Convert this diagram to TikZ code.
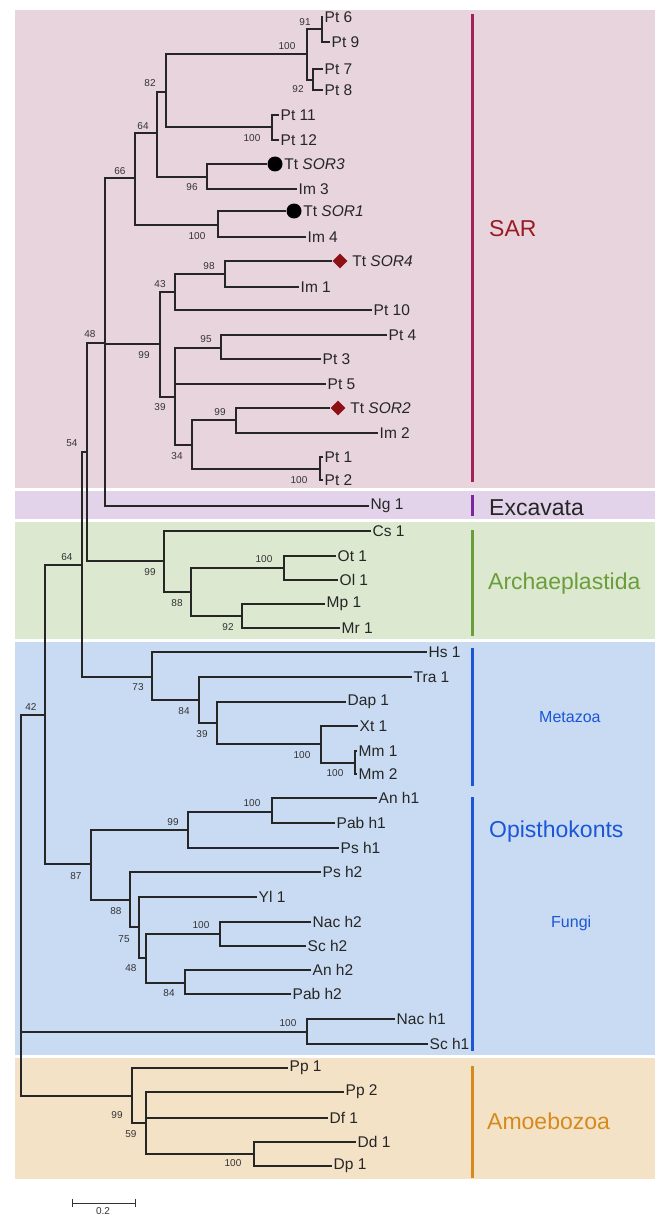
\documentclass[tikz,border=0pt]{standalone}
\usepackage{fontspec}
\setmainfont{Liberation Sans}
\usepackage{xcolor}
\usepackage{tikz}
\usetikzlibrary{arrows.meta,positioning,shapes.geometric}
\definecolor{sarbg}{RGB}{232,212,221}
\definecolor{excbg}{RGB}{226,211,234}
\definecolor{arcbg}{RGB}{221,232,208}
\definecolor{opibg}{RGB}{201,219,243}
\definecolor{amobg}{RGB}{244,226,199}
\definecolor{sarbar}{RGB}{163,33,90}
\definecolor{sartext}{RGB}{155,27,35}
\definecolor{excbar}{RGB}{122,40,155}
\definecolor{arcgreen}{RGB}{106,158,58}
\definecolor{opiblue}{RGB}{27,86,214}
\definecolor{amoorange}{RGB}{214,138,28}
\definecolor{sordia}{RGB}{140,16,20}

\begin{document}
\begin{tikzpicture}[
  x=1pt, y=-1pt,
  font=\fontsize{15.5}{15.5}\selectfont,
  branch/.style={line width=1.4pt, black!85},
  leaf/.style={anchor=west, inner sep=1.5pt, text=black!85},
  boot/.style={font=\fontsize{10}{10}\selectfont, inner sep=0pt, text=black!80},
  dot/.style={circle, fill=black, inner sep=0pt, minimum size=15pt},
  gem/.style={diamond, fill=sordia, inner sep=0pt, minimum size=15pt},
  bar/.style={line width=3pt},
  clade/.style={anchor=west, font=\fontsize{23}{23}\selectfont, inner sep=0pt},
  subclade/.style={anchor=west, font=\fontsize{16}{16}\selectfont, inner sep=0pt}
]
\useasboundingbox (0,0) rectangle (655,1217);
% clade bands
\fill[sarbg] (15,10) rectangle (655,488);
\fill[excbg] (15,491) rectangle (655,519);
\fill[arcbg] (15,522) rectangle (655,639);
\fill[opibg] (15,642) rectangle (655,1055);
\fill[amobg] (15,1058) rectangle (655,1179);
\draw[bar, sarbar] (472,14) -- (472,482);
\draw[bar, excbar] (472,495) -- (472,516);
\draw[bar, arcgreen] (472,530) -- (472,636);
\draw[bar, opiblue] (472,648) -- (472,786);
\draw[bar, opiblue] (472,797) -- (472,1051);
\draw[bar, amoorange] (472,1066) -- (472,1178);
\node[clade, text=sartext] (sar) at (489,229) {SAR};
\node[clade, text=black!85] (exc) at (489,508) {Excavata};
\node[clade, text=arcgreen] (arc) at (488,584) {Archaeplastida};
\node[subclade, text=opiblue] (met) at (539,717) {Metazoa};
\node[clade, text=opiblue] (opi) at (489,832) {Opisthokonts};
\node[subclade, text=opiblue] (fun) at (551,923) {Fungi};
\node[clade, text=amoorange] (amo) at (487,1121) {Amoebozoa};

% internal nodes
\coordinate (n91) at (322,29);
\coordinate (n92) at (313,80);
\coordinate (n100a) at (307,54);
\coordinate (n100b) at (272,127);
\coordinate (n82) at (166,92);
\coordinate (n96) at (207,177);
\coordinate (n64) at (157,133);
\coordinate (n100c) at (218,225);
\coordinate (n66) at (135,178);
\coordinate (n98) at (225,274);
\coordinate (n43) at (175,292);
\coordinate (n95) at (221,348);
\coordinate (n99b) at (236,420);
\coordinate (n100d) at (320,469);
\coordinate (n34) at (192,445);
\coordinate (n39) at (175,397);
\coordinate (n99a) at (160,344);
\coordinate (n48) at (105,343);
\coordinate (n99c) at (164,561);
\coordinate (n88) at (191,592);
\coordinate (n100e) at (284,568);
\coordinate (n92b) at (242,616);
\coordinate (n54) at (87,452);
\coordinate (n73) at (152,677);
\coordinate (n84) at (199,700);
\coordinate (n39b) at (217,723);
\coordinate (n100f) at (321,744);
\coordinate (n100g) at (355,763);
\coordinate (n64b) at (82,565);
\coordinate (n99d) at (188,830);
\coordinate (n100h) at (272,812);
\coordinate (n88b) at (130,900);
\coordinate (n75) at (139,927);
\coordinate (n48b) at (146,958);
\coordinate (n100i) at (220,934);
\coordinate (n84b) at (185,983);
\coordinate (n87) at (91,864);
\coordinate (n42) at (45,715);
\coordinate (n100j) at (307,1032);
\coordinate (n99e) at (132,1096);
\coordinate (n59) at (146,1123);
\coordinate (n100k) at (254,1154);
\coordinate (root) at (21,905);

% leaves
\node[leaf] (pt6) at (323,17) {Pt 6};
\node[leaf] (pt9) at (330,42) {Pt 9};
\node[leaf] (pt7) at (323,69) {Pt 7};
\node[leaf] (pt8) at (323,90) {Pt 8};
\node[leaf] (pt11) at (279,115) {Pt 11};
\node[leaf] (pt12) at (279,140) {Pt 12};
\node[dot] (sor3m) at (275,164) {};
\node[leaf, right=0pt of sor3m] (sor3) {Tt \textit{SOR3}};
\node[leaf] (im3) at (297,189) {Im 3};
\node[dot] (sor1m) at (294,211) {};
\node[leaf, right=0pt of sor1m] (sor1) {Tt \textit{SOR1}};
\node[leaf] (im4) at (306,237) {Im 4};
\node[gem] (sor4m) at (340,261) {};
\node[leaf, right=3pt of sor4m] (sor4) {Tt \textit{SOR4}};
\node[leaf] (im1) at (299,287) {Im 1};
\node[leaf] (pt10) at (372,310) {Pt 10};
\node[leaf] (pt4) at (387,335) {Pt 4};
\node[leaf] (pt3) at (321,359) {Pt 3};
\node[leaf] (pt5) at (326,384) {Pt 5};
\node[gem] (sor2m) at (338,408) {};
\node[leaf, right=3pt of sor2m] (sor2) {Tt \textit{SOR2}};
\node[leaf] (im2) at (378,433) {Im 2};
\node[leaf] (pt1) at (323,457) {Pt 1};
\node[leaf] (pt2) at (323,480) {Pt 2};
\node[leaf] (ng1) at (369,506) {Ng 1};
\node[leaf] (cs1) at (371,531) {Cs 1};
\node[leaf] (ot1) at (336,556) {Ot 1};
\node[leaf] (ol1) at (338,580) {Ol 1};
\node[leaf] (mp1) at (325,604) {Mp 1};
\node[leaf] (mr1) at (340,628) {Mr 1};
\node[leaf] (hs1) at (427,652) {Hs 1};
\node[leaf] (tra1) at (412,677) {Tra 1};
\node[leaf] (dap1) at (346,702) {Dap 1};
\node[leaf] (xt1) at (358,726) {Xt 1};
\node[leaf] (mm1) at (357,751) {Mm 1};
\node[leaf] (mm2) at (357,774) {Mm 2};
\node[leaf] (anh1) at (377,798) {An h1};
\node[leaf] (pabh1) at (335,823) {Pab h1};
\node[leaf] (psh1) at (339,848) {Ps h1};
\node[leaf] (psh2) at (321,872) {Ps h2};
\node[leaf] (yl1) at (257,897) {Yl 1};
\node[leaf] (nach2) at (311,922) {Nac h2};
\node[leaf] (sch2) at (306,946) {Sc h2};
\node[leaf] (anh2) at (311,970) {An h2};
\node[leaf] (pabh2) at (291,994) {Pab h2};
\node[leaf] (nach1) at (395,1019) {Nac h1};
\node[leaf] (sch1) at (428,1044) {Sc h1};
\node[leaf] (pp1) at (288,1068) {Pp 1};
\node[leaf] (pp2) at (344,1092) {Pp 2};
\node[leaf] (df1) at (328,1118) {Df 1};
\node[leaf] (dd1) at (356,1142) {Dd 1};
\node[leaf] (dp1) at (332,1166) {Dp 1};

% branches
\draw[branch] (n91) |- (pt6.west) (n91) |- (pt9.west);
\draw[branch] (n92) |- (pt7.west) (n92) |- (pt8.west);
\draw[branch] (n100a) |- (n91) (n100a) |- (n92);
\draw[branch] (n100b) |- (pt11.west) (n100b) |- (pt12.west);
\draw[branch] (n82) |- (n100a) (n82) |- (n100b);
\draw[branch] (n96) |- (sor3m.west) (n96) |- (im3.west);
\draw[branch] (n64) |- (n82) (n64) |- (n96);
\draw[branch] (n100c) |- (sor1m.west) (n100c) |- (im4.west);
\draw[branch] (n66) |- (n64) (n66) |- (n100c);
\draw[branch] (n98) |- (sor4m.west) (n98) |- (im1.west);
\draw[branch] (n43) |- (n98) (n43) |- (pt10.west);
\draw[branch] (n95) |- (pt4.west) (n95) |- (pt3.west);
\draw[branch] (n99b) |- (sor2m.west) (n99b) |- (im2.west);
\draw[branch] (n100d) |- (pt1.west) (n100d) |- (pt2.west);
\draw[branch] (n34) |- (n99b) (n34) |- (n100d);
\draw[branch] (n39) |- (n95) (n39) |- (pt5.west) (n39) |- (n34);
\draw[branch] (n99a) |- (n43) (n99a) |- (n39);
\draw[branch] (n48) |- (n66) (n48) |- (n99a) (n48) |- (ng1.west);
\draw[branch] (n100e) |- (ot1.west) (n100e) |- (ol1.west);
\draw[branch] (n92b) |- (mp1.west) (n92b) |- (mr1.west);
\draw[branch] (n88) |- (n100e) (n88) |- (n92b);
\draw[branch] (n99c) |- (cs1.west) (n99c) |- (n88);
\draw[branch] (n54) |- (n48) (n54) |- (n99c);
\draw[branch] (n100g) |- (mm1.west) (n100g) |- (mm2.west);
\draw[branch] (n100f) |- (xt1.west) (n100f) |- (n100g);
\draw[branch] (n39b) |- (dap1.west) (n39b) |- (n100f);
\draw[branch] (n84) |- (tra1.west) (n84) |- (n39b);
\draw[branch] (n73) |- (hs1.west) (n73) |- (n84);
\draw[branch] (n64b) |- (n54) (n64b) |- (n73);
\draw[branch] (n100h) |- (anh1.west) (n100h) |- (pabh1.west);
\draw[branch] (n99d) |- (n100h) (n99d) |- (psh1.west);
\draw[branch] (n100i) |- (nach2.west) (n100i) |- (sch2.west);
\draw[branch] (n84b) |- (anh2.west) (n84b) |- (pabh2.west);
\draw[branch] (n48b) |- (n100i) (n48b) |- (n84b);
\draw[branch] (n75) |- (yl1.west) (n75) |- (n48b);
\draw[branch] (n88b) |- (psh2.west) (n88b) |- (n75);
\draw[branch] (n87) |- (n99d) (n87) |- (n88b);
\draw[branch] (n42) |- (n64b) (n42) |- (n87);
\draw[branch] (n100j) |- (nach1.west) (n100j) |- (sch1.west);
\draw[branch] (n100k) |- (dd1.west) (n100k) |- (dp1.west);
\draw[branch] (n59) |- (pp2.west) (n59) |- (df1.west) (n59) |- (n100k);
\draw[branch] (n99e) |- (pp1.west) (n99e) |- (n59);
\draw[branch] (root) |- (n42) (root) |- (n100j) (root) |- (n99e);

% bootstrap values
\node[boot] (b91) at (305,22) {91};
\node[boot] (b100a) at (287,46) {100};
\node[boot] (b92) at (298,89) {92};
\node[boot] (b82) at (150,83) {82};
\node[boot] (b100b) at (252,138) {100};
\node[boot] (b64) at (143,126) {64};
\node[boot] (b66) at (120,171) {66};
\node[boot] (b96) at (192,187) {96};
\node[boot] (b100c) at (197,236) {100};
\node[boot] (b98) at (209,266) {98};
\node[boot] (b43) at (160,284) {43};
\node[boot] (b48) at (90,334) {48};
\node[boot] (b99a) at (144,355) {99};
\node[boot] (b95) at (206,339) {95};
\node[boot] (b39) at (160,407) {39};
\node[boot] (b99b) at (220,412) {99};
\node[boot] (b54) at (72,443) {54};
\node[boot] (b34) at (177,456) {34};
\node[boot] (b100d) at (299,480) {100};
\node[boot] (b64b) at (67,557) {64};
\node[boot] (b99c) at (150,572) {99};
\node[boot] (b100e) at (264,559) {100};
\node[boot] (b88) at (177,603) {88};
\node[boot] (b92b) at (228,627) {92};
\node[boot] (b73) at (138,687) {73};
\node[boot] (b42) at (31,707) {42};
\node[boot] (b84) at (184,711) {84};
\node[boot] (b39b) at (202,734) {39};
\node[boot] (b100f) at (302,755) {100};
\node[boot] (b100g) at (335,773) {100};
\node[boot] (b100h) at (252,803) {100};
\node[boot] (b99d) at (173,822) {99};
\node[boot] (b87) at (76,876) {87};
\node[boot] (b88b) at (116,911) {88};
\node[boot] (b75) at (124,939) {75};
\node[boot] (b100i) at (201,925) {100};
\node[boot] (b48b) at (131,968) {48};
\node[boot] (b84b) at (169,993) {84};
\node[boot] (b100j) at (288,1023) {100};
\node[boot] (b99e) at (117,1115) {99};
\node[boot] (b59) at (131,1134) {59};
\node[boot] (b100k) at (233,1163) {100};

% scale bar
\coordinate (sbl) at (72,1203);
\coordinate (sbr) at (136,1203);
\draw[line width=1pt, black!80, {Bar[width=8pt]}-{Bar[width=8pt]}] (sbl) -- (sbr);
\node[boot] (sbtext) at (103,1211) {0.2};
\end{tikzpicture}
\end{document}
